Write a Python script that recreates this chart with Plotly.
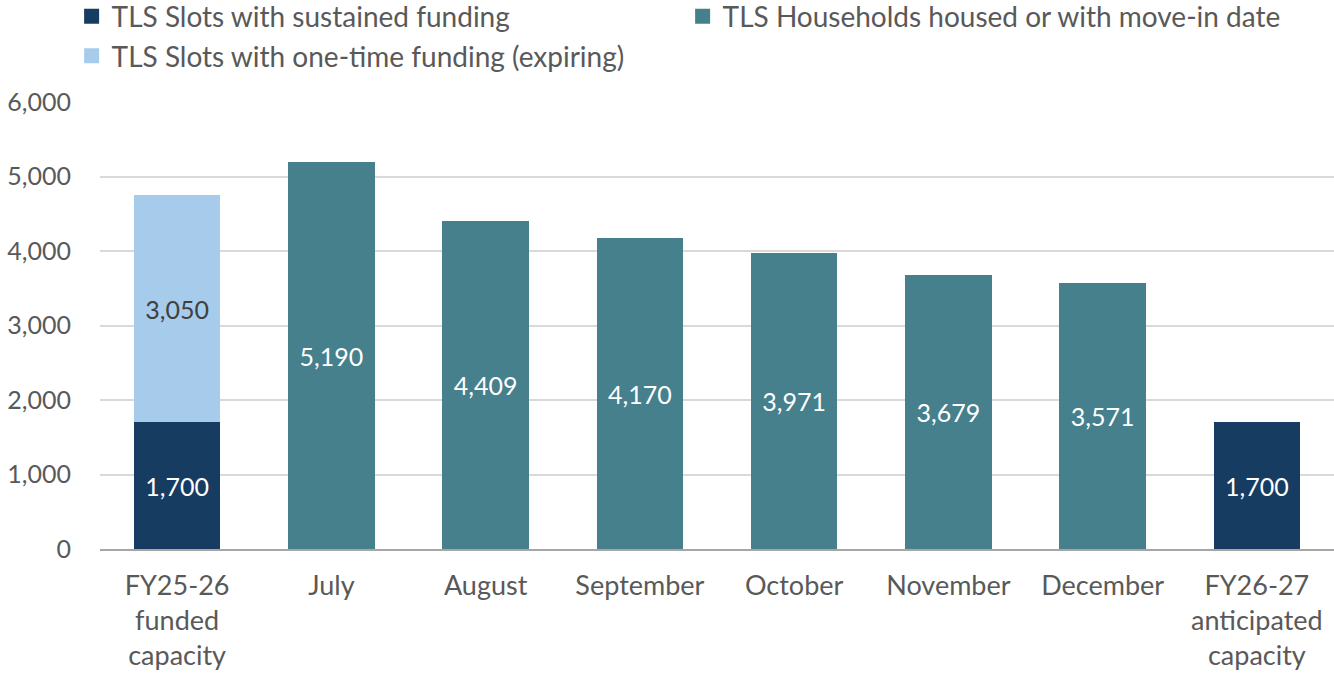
import plotly.graph_objects as go

categories = ["FY25-26<br>funded<br>capacity", "July", "August", "September", "October",
              "November", "December", "FY26-27<br>anticipated<br>capacity"]
sustained_x = [categories[0], categories[7]]
sustained_y = [1700, 1700]
households_x = categories[1:7]
households_y = [5190, 4409, 4170, 3971, 3679, 3571]
onetime_x = [categories[0]]
onetime_y = [3050]

C_DARK = "#173c62"
C_TEAL = "#46808c"
C_LIGHT = "#a7cbea"
FONT = "Source Sans Pro, Lato, Roboto, sans-serif"
GRAY = "#595959"

series = [
    ("TLS Slots with sustained funding", sustained_x, sustained_y, C_DARK, "white"),
    ("TLS Households housed or with move-in date", households_x, households_y, C_TEAL, "white"),
    ("TLS Slots with one-time funding (expiring)", onetime_x, onetime_y, C_LIGHT, "#404040"),
]

fig = go.Figure()
for name, xs, ys, col, tcol in series:
    fig.add_trace(go.Bar(name=name, x=xs, y=ys, marker_color=col, marker_line_width=0,
                         text=[f"{v:,}" for v in ys], textposition="inside",
                         insidetextanchor="middle", textangle=0, constraintext="none",
                         textfont=dict(color=tcol, size=25, family=FONT),
                         showlegend=False))
# legend entries with larger square swatches
for name, xs, ys, col, tcol in series:
    fig.add_trace(go.Scatter(name=name, x=[None], y=[None], mode="markers",
                             marker=dict(symbol="square", size=15, color=col),
                             showlegend=True, hoverinfo="skip"))

fig.update_layout(
    width=1334, height=678,
    barmode="stack", bargap=0.44,
    plot_bgcolor="white", paper_bgcolor="white",
    margin=dict(l=100, r=0, t=102, b=129, autoexpand=False),
    font=dict(family=FONT, size=25, color=GRAY),
    uniformtext=dict(minsize=25, mode="show"),
    legend=dict(orientation="h", x=-0.023, y=1.247, yanchor="top", xanchor="left",
                entrywidth=566, entrywidthmode="pixels", traceorder="normal",
                font=dict(size=28, color=GRAY, family=FONT), itemwidth=30),
    xaxis=dict(categoryorder="array", categoryarray=categories, showline=True,
               linecolor="#a6a6a6", linewidth=1.5, tickfont=dict(size=27, color=GRAY),
               ticks="", ticklabelstandoff=12),
    yaxis=dict(range=[0, 6000], dtick=1000, tickformat=",", showgrid=True,
               gridcolor="#d9d9d9", gridwidth=1.5, zeroline=False,
               tickfont=dict(size=25, color=GRAY), ticklabelstandoff=28),
)

fig.write_html("out.html", config={"displayModeBar": False},
               post_script="document.body.style.margin='0';")
